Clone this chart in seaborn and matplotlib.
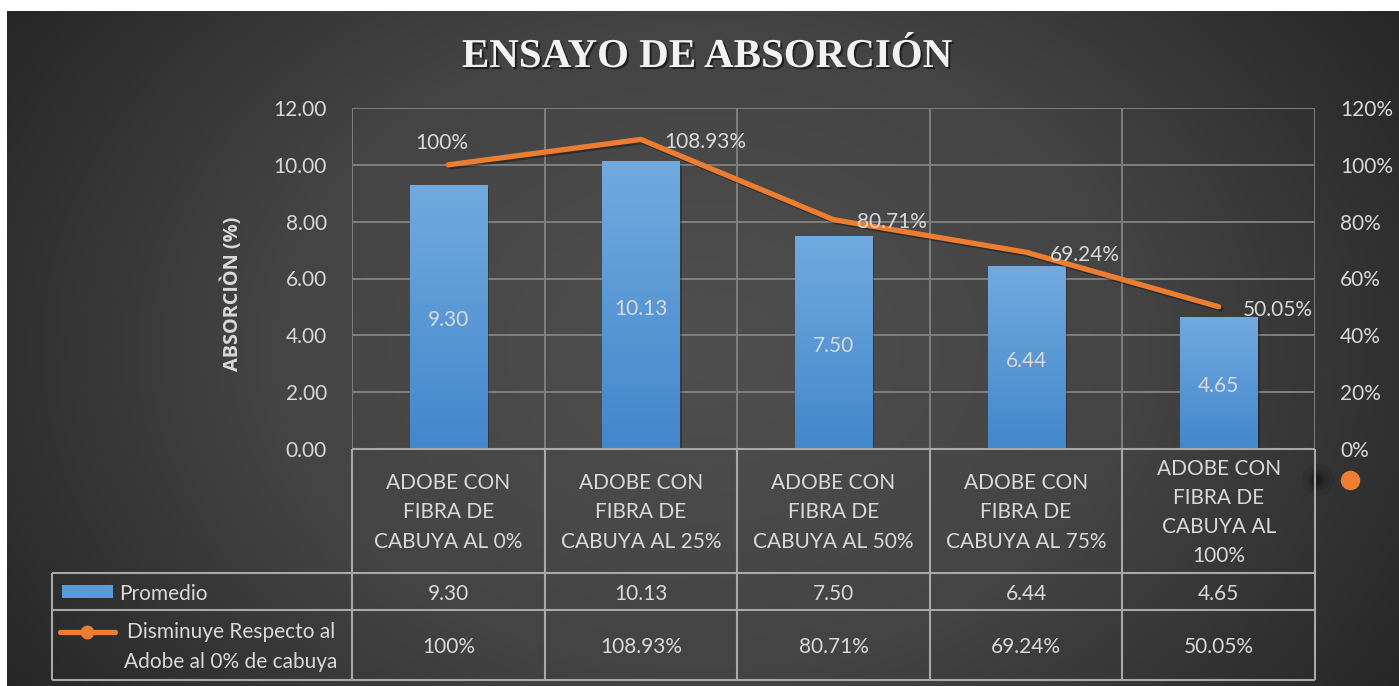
import numpy as np
import matplotlib
matplotlib.use("Agg")
import matplotlib.pyplot as plt
import seaborn as sns
from matplotlib import patheffects as pe
from matplotlib.colors import LinearSegmentedColormap

# ---- data ----
categories = [
    "ADOBE CON\nFIBRA DE\nCABUYA AL 0%",
    "ADOBE CON\nFIBRA DE\nCABUYA AL 25%",
    "ADOBE CON\nFIBRA DE\nCABUYA AL 50%",
    "ADOBE CON\nFIBRA DE\nCABUYA AL 75%",
    "ADOBE CON\nFIBRA DE\nCABUYA AL\n100%",
]
promedio = [9.30, 10.13, 7.50, 6.44, 4.65]
disminuye = [100.00, 108.93, 80.71, 69.24, 50.05]
left_ticks = [0, 2, 4, 6, 8, 10, 12]
right_ticks = [0, 20, 40, 60, 80, 100, 120]
series_names = ["Promedio", "Disminuye Respecto al\nAdobe al 0% de cabuya"]
title = "ENSAYO DE ABSORCIÓN"
ylabel = "ABSORCIÒN (%)"

FONT = ["Lato", "DejaVu Sans"]
plt.rcParams["font.family"] = FONT
TXT = "#d9d9d9"
GRID = "#7f7f7f"
TABLE = "#a8a8a8"
ORANGE = "#ed7d31"
BLUE = "#5b9bd5"
LS = 1.57  # line spacing of multi-line labels

W, H = 1399, 686
fig = plt.figure(figsize=(W / 100, H / 100), dpi=100)
fig.patch.set_facecolor("white")


def fx(px):
    return px / W


def fy(py):
    return 1 - py / H


# ---- dark radial background ----
bg = fig.add_axes([fx(7), 0, 1 - fx(7), fy(11)])
yy, xx = np.mgrid[0:1:400j, 0:1:800j]
r = np.sqrt(((xx - 0.5) / 0.62) ** 2 + ((yy - 0.5) / 0.95) ** 2)
r = np.clip(r, 0, 1)
bg_cmap = LinearSegmentedColormap.from_list("bg", ["#4f4f4f", "#444444", "#242424"])
bg.imshow(r, cmap=bg_cmap, extent=[0, 1, 0, 1], aspect="auto", vmin=0, vmax=1)
bg.set_axis_off()

# ---- plot area ----
L, R, T, B = 352, 1315, 108, 449
ax = fig.add_axes([fx(L), fy(B), (R - L) / W, (B - T) / H])
ax.patch.set_alpha(0)

sns.barplot(x=list(range(len(promedio))), y=promedio, ax=ax, width=0.4,
            color=BLUE, saturation=1, zorder=3)

# vertical gradient inside each bar
bar_cmap = LinearSegmentedColormap.from_list("bar", ["#4287cc", "#72aadf"])
grad = np.linspace(0, 1, 256).reshape(-1, 1)
for p in ax.patches:
    x0, w, h = p.get_x(), p.get_width(), p.get_height()
    p.set_edgecolor("none")
    # soft shadow
    ax.add_patch(plt.Rectangle((x0 + 0.012, -0.12), w, h, color="black",
                               alpha=0.25, zorder=2, lw=0))
    im = ax.imshow(grad, cmap=bar_cmap, origin="lower", aspect="auto",
                   extent=[x0, x0 + w, 0, h], zorder=3.5)
    im.set_clip_path(p)
    ax.annotate(f"{h:.2f}", (x0 + w / 2, h / 2), xytext=(0, -2.5),
                textcoords="offset points", ha="center", va="center",
                color=TXT, fontsize=15, zorder=6)

ax.set_xlim(-0.5, 4.5)
ax.set_ylim(0, 12)
ax.set_yticks(left_ticks)
ax.set_yticklabels([f"{v:.2f}" for v in left_ticks])
ax.set_xticks([])
ax.set_xticks(np.arange(-0.5, 5, 1), minor=True)
ax.tick_params(axis="y", length=0, pad=18, labelsize=15, labelcolor=TXT)
ax.tick_params(axis="x", which="both", length=0, labelbottom=False)
ax.grid(True, axis="y", which="major", color=GRID, lw=1.4, zorder=0)
ax.grid(True, axis="x", which="minor", color=GRID, lw=1.4, zorder=0)
ax.set_axisbelow(True)
for s in ax.spines.values():
    s.set_visible(False)
ax.set_xlabel("")
ax.set_ylabel("")

# ---- secondary axis with the line ----
ax2 = ax.twinx()
ax2.patch.set_alpha(0)
sns.lineplot(x=list(range(len(disminuye))), y=disminuye, ax=ax2, color=ORANGE,
             lw=3.8, zorder=5, legend=False)
for ln in ax2.lines:
    ln.set_solid_capstyle("round")
    ln.set_path_effects([pe.SimpleLineShadow(offset=(1.5, -1.5), alpha=0.35),
                         pe.Normal()])
ax2.set_xlim(-0.5, 4.5)
ax2.set_ylim(0, 120)
ax2.set_yticks(right_ticks)
ax2.set_yticklabels([f"{v}%" for v in right_ticks])
ax2.tick_params(axis="y", length=0, pad=18, labelsize=15, labelcolor=TXT)
for s in ax2.spines.values():
    s.set_visible(False)
ax2.set_ylabel("")

for i, v in enumerate(disminuye):
    lab = f"{v:.0f}%" if v == 100 else f"{v:.2f}%"
    if i == 0:
        ax2.annotate(lab, (i, v), xytext=(-5, 15.5), textcoords="offset points",
                     ha="center", va="center", color=TXT, fontsize=15, zorder=7)
    else:
        ax2.annotate(lab, (i, v), xytext=(17, -2), textcoords="offset points",
                     ha="left", va="center", color=TXT, fontsize=15, zorder=7)

# ---- title and axis title ----
fig.text(fx(707), fy(67), title, ha="center", va="baseline",
         family=["Liberation Serif", "DejaVu Serif"], weight="bold",
         fontsize=29.5, color="#f2f2f2",
         path_effects=[pe.withSimplePatchShadow(offset=(1.5, -1.5),
                                                shadow_rgbFace="black", alpha=0.5)])
fig.text(fx(232), fy(294), ylabel, rotation=90, ha="center", va="center",
         family=["Open Sans", "DejaVu Sans"], weight="bold", fontsize=14.3,
         color=TXT)

# ---- data table ----
tab = fig.add_axes([0, 0, 1, 1])
tab.set_xlim(0, W)
tab.set_ylim(H, 0)
tab.set_axis_off()
tab.patch.set_alpha(0)

TL = 52
row_y = [B, 573, 610, 680]
col_x = [L + (R - L) * k / 5 for k in range(6)]
kw = dict(color=TABLE, lw=1.5, solid_capstyle="butt")
tab.plot([L, R], [row_y[0]] * 2, **kw)
for yv in row_y[1:]:
    tab.plot([TL, R], [yv, yv], **kw)
for xv in col_x:
    tab.plot([xv, xv], [row_y[0], row_y[-1]], **kw)
tab.plot([TL, TL], [row_y[1], row_y[-1]], **kw)

for k, cat in enumerate(categories):
    cx = (col_x[k] + col_x[k + 1]) / 2
    tab.text(cx, (row_y[0] + row_y[1]) / 2 + 1.5, cat, ha="center", va="center",
             multialignment="center", linespacing=LS, color=TXT, fontsize=15)
    tab.text(cx, (row_y[1] + row_y[2]) / 2 + 2, f"{promedio[k]:.2f}", ha="center",
             va="center", color=TXT, fontsize=15)
    v = disminuye[k]
    lab = f"{v:.0f}%" if v == 100 else f"{v:.2f}%"
    tab.text(cx, (row_y[2] + row_y[3]) / 2 + 2, lab, ha="center", va="center",
             color=TXT, fontsize=15)

# legend keys inside the table
tab.add_patch(plt.Rectangle((62, 585), 51, 13, color=BLUE, lw=0))
tab.text(119, 594, series_names[0], ha="left", va="center", color=TXT, fontsize=15)
tab.plot([60, 115], [632, 632], color=ORANGE, lw=3.8, solid_capstyle="round")
tab.plot([87], [632], marker="o", ms=9, color=ORANGE, mec=ORANGE)
tab.text(231, 647, series_names[1], ha="center", va="center",
         multialignment="center", linespacing=LS, color=TXT, fontsize=15)

# faint shadow and stray marker beside the right axis
for rad, a in [(16, 0.06), (11, 0.10), (7, 0.16), (4, 0.22)]:
    tab.add_patch(plt.Circle((1318, 480), rad, color="black", alpha=a, lw=0))
tab.plot([1350], [480], marker="o", ms=13, color=ORANGE, mec=ORANGE)

fig.savefig("out.png", dpi=100)
